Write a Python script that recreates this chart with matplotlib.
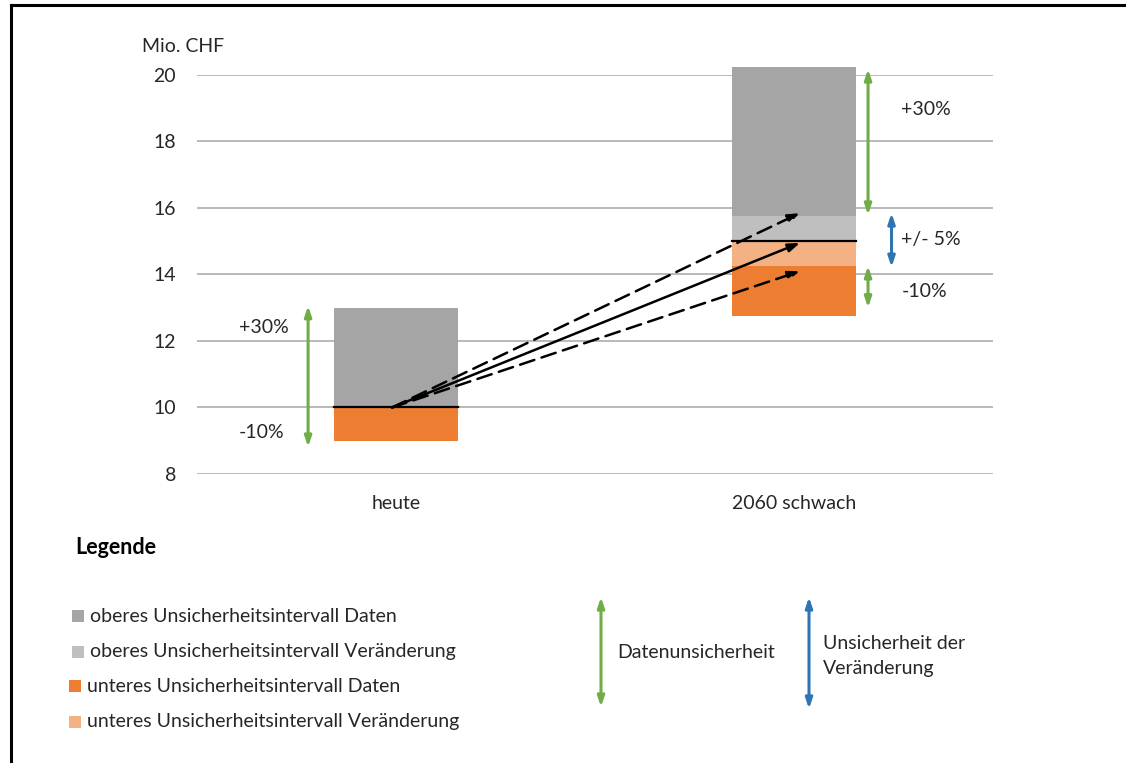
import matplotlib.pyplot as plt
from matplotlib.patches import Rectangle

plt.rcParams['font.family'] = ['Lato', 'DejaVu Sans']

# Werte in Mio. CHF
kategorien = ['heute', '2060 schwach']
basis = [10.0, 15.0]
veraenderung_unten = [10.0, 14.25]
veraenderung_oben = [10.0, 15.75]
daten_unten = [9.0, 12.75]
daten_oben = [13.0, 20.25]

# Pfeilspitzen der Entwicklung heute -> 2060
pfeil_ziele = [15.85, 14.95, 14.1]
pfeil_stile = ['--', '-', '--']

yticks = [8, 10, 12, 14, 16, 18, 20]

c_grau = '#A5A5A5'
c_hellgrau = '#BFBFBF'
c_orange = '#ED7D31'
c_hellorange = '#F4B183'
c_gruen = '#70AD47'
c_blau = '#2E75B6'
c_text = '#262626'
fs = 14

legende = [
    (c_grau, 'oberes Unsicherheitsintervall Daten'),
    (c_hellgrau, 'oberes Unsicherheitsintervall Veränderung'),
    (c_orange, 'unteres Unsicherheitsintervall Daten'),
    (c_hellorange, 'unteres Unsicherheitsintervall Veränderung'),
]

fig = plt.figure(figsize=(11.26, 7.63), dpi=100)
ax = fig.add_axes([0.175, 0.3788, 0.7069, 0.5229])
ax.set_xlim(-0.5, 1.5)
ax.set_ylim(8, 20)

for s in ax.spines.values():
    s.set_visible(False)
ax.set_yticks(yticks)
ax.tick_params(length=0, labelsize=fs, colors=c_text, pad=15)
ax.set_xticks(range(len(kategorien)))
ax.set_xticklabels(kategorien)
ax.tick_params(axis='x', pad=15)
for y in yticks:
    ax.axhline(y, color='#A6A6A6', lw=1.1, zorder=0)

breite = 0.31
for i in range(len(kategorien)):
    x0 = i - breite / 2
    segmente = [
        (daten_unten[i], veraenderung_unten[i], c_orange),
        (veraenderung_unten[i], basis[i], c_hellorange),
        (basis[i], veraenderung_oben[i], c_hellgrau),
        (veraenderung_oben[i], daten_oben[i], c_grau),
    ]
    for unten, oben, farbe in segmente:
        if oben > unten:
            ax.add_patch(Rectangle((x0, unten), breite, oben - unten,
                                   color=farbe, lw=0, zorder=2, clip_on=False))
    ax.plot([x0, x0 + breite], [basis[i], basis[i]], color='black', lw=1.6, zorder=3)

# Entwicklungspfeile
for ziel, stil in zip(pfeil_ziele, pfeil_stile):
    ax.annotate('', xy=(1.015, ziel), xytext=(-0.01, basis[0]),
                arrowprops=dict(arrowstyle='-|>,head_length=0.7,head_width=0.25',
                                color='black', lw=1.8,
                                linestyle=(0, (6, 3)) if stil == '--' else '-',
                                shrinkA=0, shrinkB=0), zorder=4)


def doppelpfeil(x, y0, y1, farbe, coords='data'):
    ax.annotate('', xy=(x, y1), xytext=(x, y0), xycoords=coords, textcoords=coords,
                arrowprops=dict(arrowstyle='<|-|>,head_length=0.6,head_width=0.2',
                                color=farbe, lw=2.2, shrinkA=0, shrinkB=0),
                annotation_clip=False)


# Unsicherheitspfeile heute
doppelpfeil(-0.221, 8.81, 13.06, c_gruen)
ax.text(-0.395, 12.4, '+30%', fontsize=fs, color=c_text, va='center')
ax.text(-0.395, 9.26, '-10%', fontsize=fs, color=c_text, va='center')

# Unsicherheitspfeile 2060
doppelpfeil(1.186, 15.79, 20.18, c_gruen)
doppelpfeil(1.186, 13.0, 14.26, c_gruen)
doppelpfeil(1.245, 14.22, 15.85, c_blau)
ax.text(1.27, 18.95, '+30%', fontsize=fs, color=c_text, va='center')
ax.text(1.27, 15.04, '+/- 5%', fontsize=fs, color=c_text, va='center')
ax.text(1.27, 13.5, '-10%', fontsize=fs, color=c_text, va='center')

fig.text(142 / 1126, 1 - 47 / 763, 'Mio. CHF', fontsize=fs, color=c_text, va='center')

# Legende
fig.text(75 / 1126, 1 - 548 / 763, 'Legende', fontsize=15.5, fontweight='bold',
         color='black', va='center')
zeilen_y = [616, 652, 686, 722]
for (farbe, label), yy in zip(legende, zeilen_y):
    x_q = 72 if farbe in (c_grau, c_hellgrau) else 69
    fig.patches.append(Rectangle((x_q / 1126, 1 - (yy + 6) / 763), 12 / 1126, 12 / 763,
                                 transform=fig.transFigure, color=farbe, lw=0))
    fig.text((x_q + 18) / 1126, 1 - yy / 763, label, fontsize=fs, color=c_text,
             va='center')

doppelpfeil(601 / 1126, 1 - 707 / 763, 1 - 597 / 763, c_gruen, coords='figure fraction')
doppelpfeil(809 / 1126, 1 - 709 / 763, 1 - 597 / 763, c_blau, coords='figure fraction')
fig.text(617 / 1126, 1 - 652 / 763, 'Datenunsicherheit', fontsize=fs, color=c_text, va='center')
fig.text(823 / 1126, 1 - 656 / 763, 'Unsicherheit der\nVeränderung', fontsize=fs,
         color=c_text, va='center', linespacing=1.6)

# Rahmen oben und links
fig.add_artist(plt.Line2D([11 / 1126, 1], [1 - 5 / 763, 1 - 5 / 763], color='black', lw=2.2,
                          transform=fig.transFigure))
fig.add_artist(plt.Line2D([11 / 1126, 11 / 1126], [0, 1 - 5 / 763], color='black', lw=2.2,
                          transform=fig.transFigure))

fig.savefig('out.png', dpi=100)
